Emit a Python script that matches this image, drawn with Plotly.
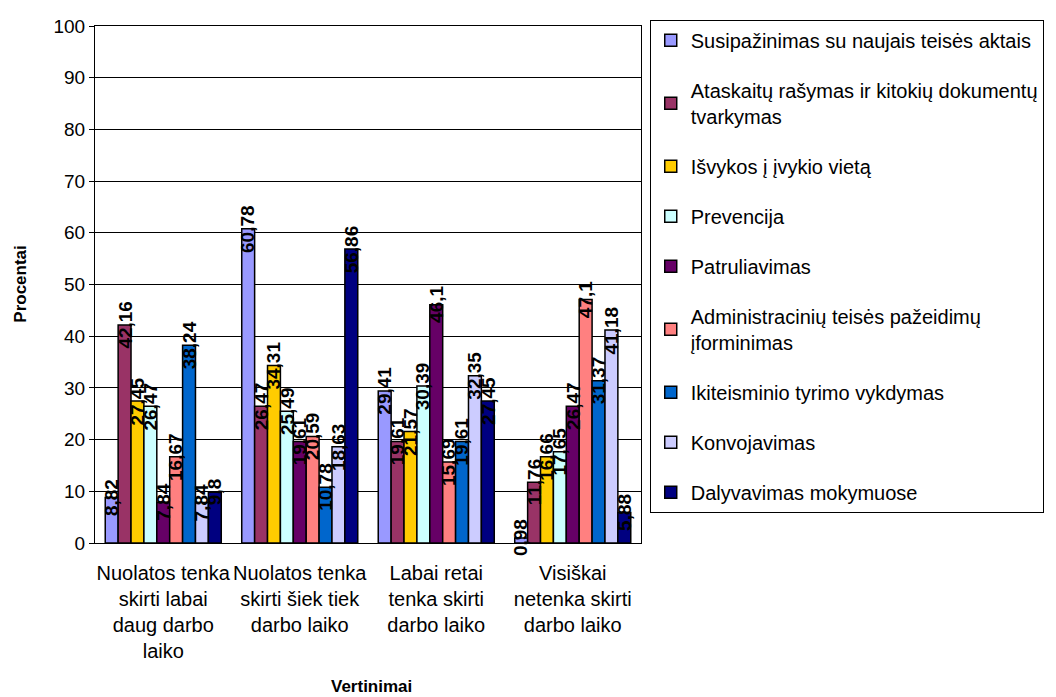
import plotly.graph_objects as go

categories = [
    "Nuolatos tenka<br>skirti labai<br>daug darbo<br>laiko",
    "Nuolatos tenka<br>skirti šiek tiek<br>darbo laiko",
    "Labai retai<br>tenka skirti<br>darbo laiko",
    "Visiškai<br>netenka skirti<br>darbo laiko",
]

series_names = [
    "Susipažinimas su naujais teisės aktais",
    "Ataskaitų rašymas ir kitokių dokumentų<br>tvarkymas",
    "Išvykos į įvykio vietą",
    "Prevencija",
    "Patruliavimas",
    "Administracinių teisės pažeidimų<br>įforminimas",
    "Ikiteisminio tyrimo vykdymas",
    "Konvojavimas",
    "Dalyvavimas mokymuose",
]

susipazinimas = [8.82, 60.78, 29.41, 0.98]
ataskaitos = [42.16, 26.47, 19.61, 11.76]
isvykos = [27.45, 34.31, 21.57, 16.66]
prevencija = [26.47, 25.49, 30.39, 17.65]
patruliavimas = [7.84, 19.61, 46.1, 26.47]
administraciniai = [16.67, 20.59, 15.69, 47.1]
ikiteisminis = [38.24, 10.78, 19.61, 31.37]
konvojavimas = [7.84, 18.63, 32.35, 41.18]
mokymai = [9.8, 56.86, 27.45, 5.88]

series_values = [susipazinimas, ataskaitos, isvykos, prevencija, patruliavimas,
                 administraciniai, ikiteisminis, konvojavimas, mokymai]

colors = ["#9999FF", "#993366", "#FFCC00", "#CCFFFF", "#660066",
          "#FF8080", "#0066CC", "#CCCCFF", "#000080"]

FONT = "Liberation Sans, Arial, sans-serif"
bargap = 0.15
n = len(series_values)

fig = go.Figure()
annotations = []
for i, (name, vals, col) in enumerate(zip(series_names, series_values, colors)):
    fig.add_trace(go.Bar(
        x=list(range(len(categories))), y=vals, name=name,
        marker=dict(color=col, line=dict(color="black", width=1.5)),
        legendgroup=f"g{i}",
    ))
    w = (1 - bargap) / n
    for ci, v in enumerate(vals):
        xc = ci - (1 - bargap) / 2 + (i + 0.5) * w
        annotations.append(dict(
            x=xc, y=v, xref="x", yref="y", text=str(v).replace(".", ","),
            showarrow=False, textangle=-90, xanchor="center", yanchor="middle",
            font=dict(family=FONT, size=19, color="black", weight="bold"),
        ))

annotations.append(dict(
    x=-0.137, y=0.5, xref="paper", yref="paper", text="<b>Procentai</b>",
    showarrow=False, textangle=-90, xanchor="center", yanchor="middle",
    font=dict(family=FONT, size=17, color="black"),
))
annotations.append(dict(
    x=0.507, y=-0.277, xref="paper", yref="paper", text="<b>Vertinimai</b>",
    showarrow=False, xanchor="center", yanchor="middle",
    font=dict(family=FONT, size=17, color="black"),
))

fig.update_layout(
    width=1048, height=689,
    margin=dict(l=87, r=413, t=12, b=154),
    paper_bgcolor="white", plot_bgcolor="white",
    barmode="group", bargap=bargap, bargroupgap=0,
    font=dict(family=FONT, size=19, color="black"),
    showlegend=True,
    legend=dict(
        x=1.016, y=1.012, xanchor="left", yanchor="top",
        bordercolor="black", borderwidth=1, bgcolor="white",
        font=dict(family=FONT, size=20, color="black"),
        traceorder="grouped", tracegroupgap=21, maxheight=680,
    ),
    annotations=annotations,
)
fig.update_xaxes(
    tickmode="array", tickvals=list(range(len(categories))), ticktext=categories,
    range=[-0.5, len(categories) - 0.5], automargin=False,
    showline=True, linecolor="black", linewidth=1, mirror=True,
    ticks="", showgrid=False, tickfont=dict(family=FONT, size=20),
    ticklabelstandoff=12,
)
fig.update_yaxes(
    range=[0, 100], dtick=10, showgrid=True, gridcolor="black", gridwidth=1,
    showline=True, linecolor="black", linewidth=1, mirror=True, automargin=False,
    ticks="outside", ticklen=5, tickcolor="black",
    tickfont=dict(family=FONT, size=19), zeroline=False,
)

fig.write_html("out.html")
